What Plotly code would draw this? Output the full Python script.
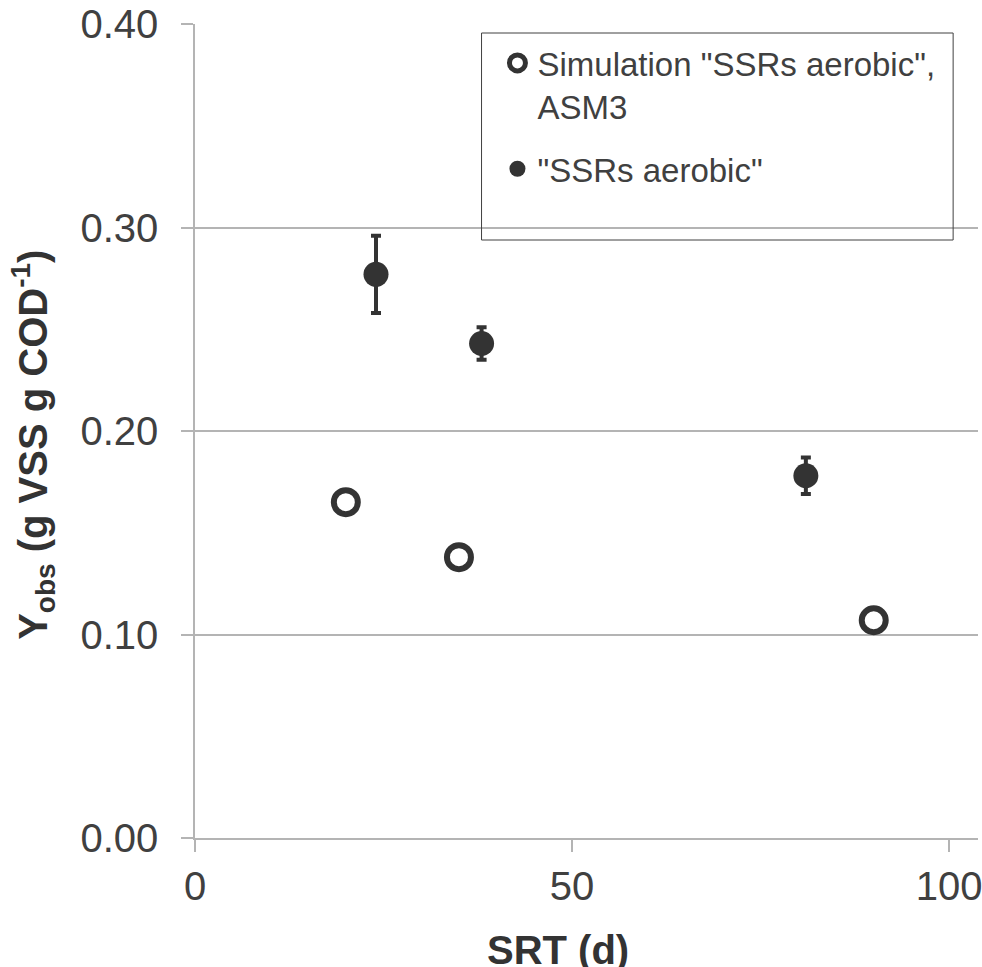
import plotly.graph_objects as go

# Data
sim_srt = [20, 35, 90]
sim_yobs = [0.165, 0.138, 0.107]
sim_name = 'Simulation "SSRs aerobic",<br>ASM3'

exp_srt = [24, 38, 81]
exp_yobs = [0.277, 0.243, 0.178]
exp_err = [0.019, 0.008, 0.009]
exp_name = '"SSRs aerobic"'

x_ticks = [0, 50, 100]
y_ticks = [0.0, 0.1, 0.2, 0.3, 0.4]
y_tick_labels = ["0.00", "0.10", "0.20", "0.30", "0.40"]

FONT = "Liberation Sans, Arial, sans-serif"
DARK = "#333333"
TEXT = "#404040"
GRID = "#b4b4b4"

fig = go.Figure()
fig.add_trace(go.Scatter(
    x=sim_srt, y=sim_yobs, name=sim_name, mode="markers",
    legendgroup="sim",
    marker=dict(symbol="circle-open", size=24, color=DARK,
                line=dict(width=6, color=DARK)),
))
fig.add_trace(go.Scatter(
    x=exp_srt, y=exp_yobs, name=exp_name, mode="markers",
    legendgroup="exp",
    marker=dict(symbol="circle", size=25, color=DARK),
    error_y=dict(type="data", array=exp_err, visible=True,
                 color=DARK, thickness=4, width=5),
))

W, H = 982, 967
ml, mr, mt, mb = 195, 0, 24, 129
pw, ph = W - ml - mr, H - mt - mb

def px_x(p):
    return (p - ml) / pw

def px_y(p):
    return (H - mb - p) / ph

fig.update_layout(
    width=W, height=H,
    margin=dict(l=ml, r=mr, t=mt, b=mb, pad=0),
    paper_bgcolor="white", plot_bgcolor="white",
    font=dict(family=FONT, color=TEXT),
    showlegend=True,
    legend=dict(
        x=px_x(499), y=px_y(35), xanchor="left", yanchor="top",
        bgcolor="rgba(0,0,0,0)", borderwidth=0,
        font=dict(family=FONT, size=33, color=TEXT),
        valign="top", tracegroupgap=17, traceorder="grouped",
    ),
    shapes=[dict(type="rect", xref="paper", yref="paper",
                 x0=px_x(483), x1=px_x(957), y0=px_y(240), y1=px_y(33),
                 line=dict(color="#404040", width=1), fillcolor="rgba(0,0,0,0)")],
    annotations=[
        dict(text="<b>SRT (d)</b>", xref="paper", yref="paper",
             x=px_x(560), y=px_y(950), xanchor="center", yanchor="middle",
             showarrow=False, font=dict(family=FONT, size=40, color=DARK)),
        dict(text="<b>Y<sub>obs</sub> (g VSS g COD<sup>-1</sup>)</b>",
             xref="paper", yref="paper", x=px_x(32), y=px_y(445),
             xanchor="center", yanchor="middle", textangle=-90,
             showarrow=False, font=dict(family=FONT, size=40, color=DARK)),
    ],
)

fig.update_xaxes(
    range=[0, pw / 7.58], tickvals=x_ticks, ticktext=[str(v) for v in x_ticks],
    showgrid=False, zeroline=False,
    showline=True, linecolor=GRID, linewidth=1.5,
    ticks="outside", ticklen=12, tickcolor=GRID, tickwidth=1.5,
    tickfont=dict(family=FONT, size=40, color=TEXT),
    ticklabelstandoff=0, ticklabeloverflow="allow",
)
fig.update_yaxes(
    range=[0, 0.4], tickvals=y_ticks, ticktext=y_tick_labels,
    showgrid=True, gridcolor=GRID, gridwidth=1.5, zeroline=False,
    showline=True, linecolor=GRID, linewidth=1.5,
    ticks="outside", ticklen=12, tickcolor=GRID, tickwidth=1.5,
    tickfont=dict(family=FONT, size=40, color=TEXT),
    ticklabelstandoff=15, ticklabeloverflow="allow",
)

fig.write_html(
    "out.html",
    config={"displayModeBar": False},
    post_script="document.body.style.margin='0';document.body.style.overflow='hidden';",
)
